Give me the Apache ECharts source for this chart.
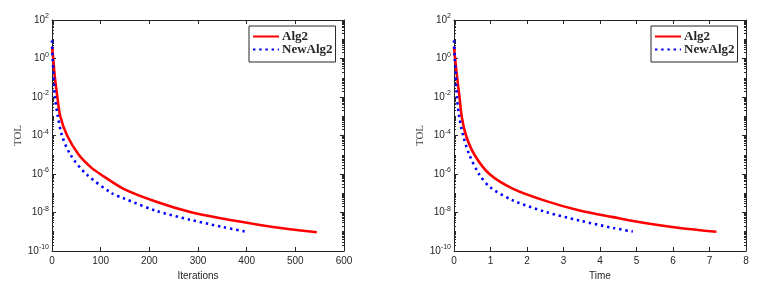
<!DOCTYPE html>
<html><head><meta charset="utf-8">
<script src="https://cdn.jsdelivr.net/npm/echarts@6/dist/echarts.min.js"></script>
<style>html,body{margin:0;padding:0;background:#fff}#c{width:778px;height:283px}</style>
</head><body><div id="c"></div>
<script>
// ---- data ----
const alg2Iter      = [0, 2.5, 5.5, 11, 17, 31, 55, 79, 99, 147, 216, 284, 352, 421, 489, 544];
const alg2IterTol   = [4, 1, 0.13, 1e-2, 1e-3, 1e-4, 1e-5, 2.35e-6, 1e-6, 1.7e-7, 3.5e-8, 1.05e-8, 4.7e-9, 2.4e-9, 1.35e-9, 9.5e-10];
const newIter       = [0, 1.3, 3.4, 6, 12, 20.5, 38, 70, 123, 147, 216, 284, 352, 400];
const newIterTol    = [8.7, 1, 0.13, 1e-2, 1e-3, 1e-4, 1e-5, 1e-6, 1e-7, 5.5e-8, 1.17e-8, 4.2e-9, 1.74e-9, 1e-9];
const alg2Time      = [0, 0.03, 0.08, 0.15, 0.21, 0.33, 0.56, 0.97, 1.62, 2.53, 3.44, 4.36, 5.27, 6.18, 7.19];
const alg2TimeTol   = [4, 1, 0.13, 1e-2, 1e-3, 1e-4, 1e-5, 1e-6, 1.7e-7, 3.9e-8, 1.26e-8, 5.75e-9, 2.75e-9, 1.58e-9, 1e-9];
const newTime       = [0, 0.02, 0.05, 0.08, 0.14, 0.25, 0.42, 0.70, 1.0, 1.62, 2.53, 3.44, 4.36, 4.90];
const newTimeTol    = [8.7, 1, 0.13, 1e-2, 1e-3, 1e-4, 1e-5, 9e-7, 2e-7, 4.2e-8, 1.05e-8, 3.8e-9, 1.58e-9, 1.02e-9];
const seriesNames   = ['Alg2', 'NewAlg2'];
const xNames        = ['Iterations', 'Time'];
const yName         = 'TOL';
const yMin = 1e-10, yMax = 1e2;
const xRanges       = [[0, 600, 100], [0, 8, 1]];

// minor tick values (2..9 x 10^k and odd decades)
const minorTicks = [];
for (let k = -10; k < 2; k++) {
  for (let m = 1; m <= 9; m++) {
    if (m === 1 && k % 2 === 0) continue;
    minorTicks.push(+(m * Math.pow(10, k)).toPrecision(3));
  }
}

const AX = '#262626';
const sans = 'Liberation Sans';
const serif = 'Liberation Serif';
const gridDefs = [{left: 52, top: 20, width: 292, height: 231}, {left: 454, top: 20, width: 292, height: 231}];

const grids = [], xAxes = [], yAxes = [], series = [], legends = [];
gridDefs.forEach((g, gi) => {
  grids.push(Object.assign({outerBoundsMode: 'none', containLabel: false}, g));
  const xr = xRanges[gi];
  xAxes.push({type: 'value', gridIndex: gi, position: 'bottom', min: xr[0], max: xr[1], interval: xr[2],
    axisLine: {show: true, lineStyle: {color: AX, width: 1}},
    axisTick: {show: true, inside: true, length: 4, lineStyle: {color: AX}},
    splitLine: {show: false},
    axisLabel: {margin: 5, fontFamily: sans, fontSize: 10, color: AX},
    name: xNames[gi], nameLocation: 'middle', nameGap: 16,
    nameTextStyle: {fontFamily: sans, fontSize: 10, color: AX}});
  xAxes.push({type: 'value', gridIndex: gi, position: 'top', min: xr[0], max: xr[1], interval: xr[2],
    axisLine: {show: true, lineStyle: {color: AX, width: 1}},
    axisTick: {show: true, inside: true, length: 4, lineStyle: {color: AX}},
    splitLine: {show: false}, axisLabel: {show: false}});
  const yBase = {type: 'log', logBase: 10, gridIndex: gi, min: yMin, max: yMax, interval: 2, splitLine: {show: false}};
  yAxes.push(Object.assign({}, yBase, {position: 'left',
    axisLine: {show: true, lineStyle: {color: AX, width: 1}},
    axisTick: {show: true, inside: true, length: 4, lineStyle: {color: AX}},
    axisLabel: {margin: 3, fontFamily: sans, fontSize: 10, color: AX,
      formatter: v => '10{s|' + Math.round(Math.log10(v)) + '}',
      rich: {s: {fontFamily: sans, fontSize: 7, color: AX, verticalAlign: 'bottom', padding: [0, 0, 7, 0]}}},
    name: yName, nameLocation: 'middle', nameGap: 27,
    nameTextStyle: {fontFamily: serif, fontSize: 11, color: '#444'}}));
  yAxes.push(Object.assign({}, yBase, {position: 'left',
    axisLine: {show: false},
    axisTick: {show: true, inside: true, length: 2, customValues: minorTicks, lineStyle: {color: AX}},
    axisLabel: {show: false}}));
  yAxes.push(Object.assign({}, yBase, {position: 'right',
    axisLine: {show: true, lineStyle: {color: AX, width: 1}},
    axisTick: {show: true, inside: true, length: 4, lineStyle: {color: AX}},
    axisLabel: {show: false}}));
  yAxes.push(Object.assign({}, yBase, {position: 'right',
    axisLine: {show: false},
    axisTick: {show: true, inside: true, length: 2, customValues: minorTicks, lineStyle: {color: AX}},
    axisLabel: {show: false}}));

  legends.push({show: true, orient: 'vertical', left: g.left + 197, top: 26,
    data: seriesNames.map(n => n + (gi ? ' ' : '')),
    formatter: n => n.trim(),
    itemWidth: 26, itemHeight: 11, itemGap: 0, padding: [4, 3, 6, 3],
    itemStyle: {opacity: 0},
    backgroundColor: '#fff', borderColor: AX, borderWidth: 1, borderRadius: 0,
    textStyle: {fontFamily: serif, fontSize: 13, fontWeight: 'bold', color: AX, padding: [0, 0, 0, -2]},
    selectedMode: false});
});

function mk(x, y) { return x.map((v, i) => [v, y[i]]); }
const sets = [
  [mk(alg2Iter, alg2IterTol), mk(newIter, newIterTol)],
  [mk(alg2Time, alg2TimeTol), mk(newTime, newTimeTol)]
];
sets.forEach((pair, gi) => {
  series.push({name: seriesNames[0] + (gi ? ' ' : ''), type: 'line', xAxisIndex: gi * 2, yAxisIndex: gi * 4,
    data: pair[0], symbol: 'none', smooth: 0.3, z: 3, animation: false,
    itemStyle: {color: '#ff0000'},
    lineStyle: {color: '#ff0000', width: 2.6}});
  series.push({name: seriesNames[1] + (gi ? ' ' : ''), type: 'line', xAxisIndex: gi * 2, yAxisIndex: gi * 4,
    data: pair[1], symbol: 'none', smooth: 0.3, z: 4, animation: false,
    itemStyle: {color: '#0000ff'},
    lineStyle: {color: '#0000ff', width: 2.6, type: [2.4, 3.8], cap: 'butt'}});
});

const chart = echarts.init(document.getElementById('c'), null, {renderer: 'canvas'});
chart.setOption({animation: false, backgroundColor: '#fff', grid: grids, xAxis: xAxes, yAxis: yAxes, series: series, legend: legends});
</script></body></html>
